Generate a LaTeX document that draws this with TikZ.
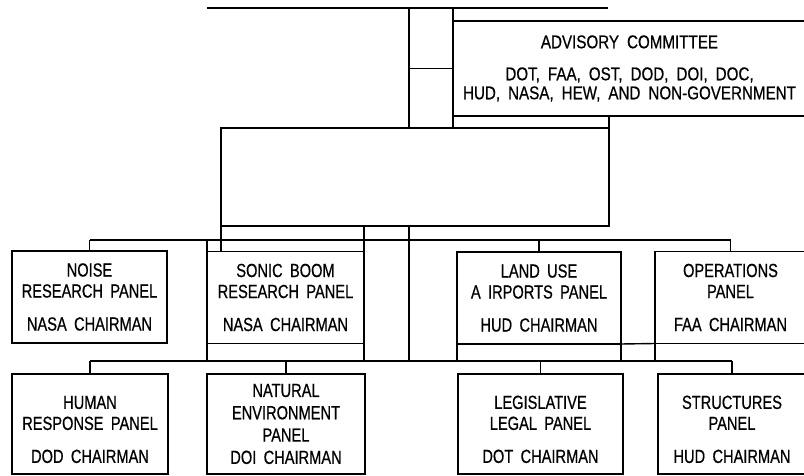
\documentclass[tikz,border=0pt]{standalone}
\usepackage{fontspec}
\setmainfont{Liberation Sans}[FakeStretch=0.77,FakeBold=0.6,WordSpace=1.8]
\newfontfamily\widefont{Liberation Sans}[FakeStretch=0.82,FakeBold=0.6,WordSpace=1.9]
\usepackage{tikz}
\usetikzlibrary{positioning}

\begin{document}
\begin{tikzpicture}[x=1pt,y=-1pt,
    panel/.style={draw,line width=1.4pt,inner sep=0pt,outer sep=0pt,align=center,
                  font=\fontsize{19}{21}\selectfont},
    upper/.style={panel,minimum height=92pt},
    lower/.style={panel,minimum height=100pt},
    wire/.style={line width=1.4pt},
    bus/.style={line width=2.1pt}]
  \useasboundingbox (0,0) rectangle (804,476);
  % committee and the blank office
  \node[panel,minimum width=353pt,minimum height=95pt,font=\widefont\fontsize{18.5}{19}\selectfont]
    (advisory) at (629.5,68.5)
    {ADVISORY COMMITTEE\\[13pt]DOT, FAA, OST, DOD, DOI, DOC,\\HUD, NASA, HEW, AND NON-GOVERNMENT};
  \node[panel,minimum width=388pt,minimum height=98pt] (office) at (415,177) {};
  % upper row of panels
  \node[upper,minimum width=155pt] (noise) at (89.5,297)
    {NOISE\\RESEARCH PANEL\\[12pt]NASA CHAIRMAN};
  \node[upper,minimum width=157pt] (sonic) at (285.5,297.5)
    {SONIC BOOM\\RESEARCH PANEL\\[12pt]NASA CHAIRMAN};
  \node[upper,minimum width=164pt] (landuse) at (539,298)
    {LAND USE\\A IRPORTS PANEL\\[12pt]HUD CHAIRMAN};
  \node[upper,minimum width=151pt] (operations) at (730.5,297.5)
    {OPERATIONS\\PANEL\\[12pt]FAA CHAIRMAN};
  % lower row of panels
  \node[lower,minimum width=156pt] (human) at (90,424)
    {\rule{0pt}{24pt}HUMAN\\RESPONSE PANEL\\[12pt]DOD CHAIRMAN};
  \node[lower,minimum width=158pt] (natural) at (286,424)
    {NATURAL\\[1.3pt]ENVIRONMENT\\[1.3pt]PANEL\\[1.3pt]DOI CHAIRMAN};
  \node[lower,minimum width=165pt] (legal) at (540.5,424)
    {\rule{0pt}{24pt}LEGISLATIVE\\LEGAL PANEL\\[12pt]DOT CHAIRMAN};
  \node[lower,minimum width=148pt] (structures) at (732,424)
    {\rule{0pt}{24pt}STRUCTURES\\PANEL\\[12pt]HUD CHAIRMAN};

  \coordinate (topL) at (207,8);
  \coordinate (topR) at (608,8);
  \coordinate (spine) at (409,0);
  \coordinate (upbus) at (0,240);
  \coordinate (lowbus) at (0,361);

  % top of the chart
  \draw[wire] (topL) -- (topR);
  \draw[wire] (spine |- topL) -- (spine |- office.north);
  \draw[wire] (advisory.north west |- topL) -- (advisory.north west |- office.north);
  \draw[wire] (spine |- advisory.west) -- (advisory.west);
  \draw[wire] (office.north east |- advisory.south) -- (office.north east);
  \draw[wire] (spine |- office.south) -- (spine |- lowbus);

  % upper bus
  \draw[bus] (noise.north |- upbus) -- (operations.north |- upbus);
  \foreach \p in {noise,landuse,operations}
    \draw[wire] (\p.north |- upbus) -- (\p.north);
  \draw[wire] (sonic.north west |- upbus) -- (sonic.north west);
  \draw[wire] (office.south west) -- (office.south west |- sonic.north);
  \draw[wire] (sonic.north east |- office.south) -- (sonic.north east);

  % down to the lower bus
  \draw[wire] (landuse.south east) -- (operations.south west);
  \foreach \c in {sonic.south west,sonic.south east,landuse.south west,
                  landuse.south east,operations.south west}
    \draw[wire] (\c) -- (\c |- lowbus);
  \draw[bus] (human.north |- lowbus) -- (structures.north |- lowbus);
  \foreach \p in {human,natural,legal,structures}
    \draw[wire] (\p.north |- lowbus) -- (\p.north);
\end{tikzpicture}
\end{document}
